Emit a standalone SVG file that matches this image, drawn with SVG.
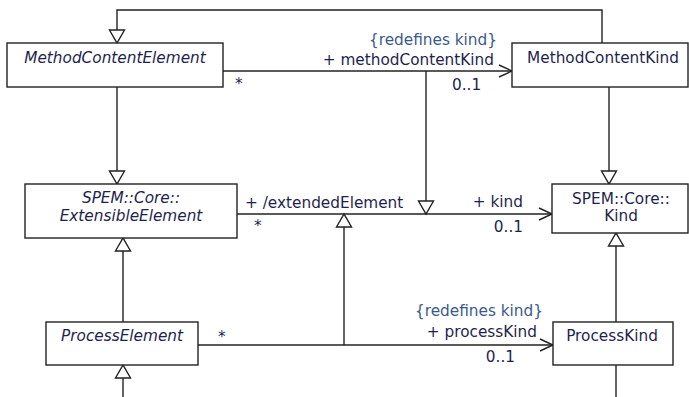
<svg xmlns="http://www.w3.org/2000/svg" width="689" height="397" viewBox="0 0 689 397">
<style>
.box{fill:#fff;stroke:#222;stroke-width:1.4}
.ln{fill:none;stroke:#222;stroke-width:1.4}
text{font-family:"DejaVu Sans","Liberation Sans",sans-serif;font-size:15.3px;fill:#1f1f4f}
.it{font-style:italic}
.c{text-anchor:middle}
.e{text-anchor:end}
.rd{fill:#3a5a8c}
</style>
<defs>
<marker id="tri" markerUnits="userSpaceOnUse" markerWidth="16" markerHeight="18" refX="13" refY="7.5" orient="auto" overflow="visible">
<path d="M0,0 L13,7.5 L0,15 Z" fill="#fff" stroke="#222" stroke-width="1.4"/>
</marker>
<marker id="open" markerUnits="userSpaceOnUse" markerWidth="16" markerHeight="16" refX="13" refY="6" orient="auto" overflow="visible">
<path d="M0,0 L13,6 L0,12" fill="none" stroke="#222" stroke-width="1.4"/>
</marker>
</defs>
<g id="connectors">
<path class="ln" d="M602,43 V10 H117 V43" marker-end="url(#tri)"/>
<path class="ln" d="M117,87 V184" marker-end="url(#tri)"/>
<path class="ln" d="M609,87 V184" marker-end="url(#tri)"/>
<path class="ln" d="M223,71 H512" marker-end="url(#open)"/>
<path class="ln" d="M426,71 V214" marker-end="url(#tri)"/>
<path class="ln" d="M237,214 H552" marker-end="url(#open)"/>
<path class="ln" d="M344,345 V214" marker-end="url(#tri)"/>
<path class="ln" d="M123,322 V238" marker-end="url(#tri)"/>
<path class="ln" d="M198,345 H553" marker-end="url(#open)"/>
<path class="ln" d="M616,322 V233" marker-end="url(#tri)"/>
<path class="ln" d="M123,397 V365" marker-end="url(#tri)"/>
<path class="ln" d="M616,365 V397"/>
<text class="rd e" x="497" y="45">{redefines kind}</text>
<text class="e" x="494" y="65">+ methodContentKind</text>
<text x="452" y="90">0..1</text>
<text x="235" y="89">*</text>
<text x="245" y="208">+ /extendedElement</text>
<text x="254" y="231">*</text>
<text class="e" x="523" y="207">+ kind</text>
<text class="e" x="523" y="232">0..1</text>
<text x="218" y="342">*</text>
<text class="rd e" x="543" y="316">{redefines kind}</text>
<text class="e" x="537" y="337">+ processKind</text>
<text class="e" x="515" y="362">0..1</text>
</g>
<g id="MethodContentElement">
<rect class="box" x="7" y="43" width="216" height="44"/>
<text class="it c" x="115" y="63">MethodContentElement</text>
</g>
<g id="MethodContentKind">
<rect class="box" x="512" y="43" width="176" height="44"/>
<text class="c" x="603" y="63">MethodContentKind</text>
</g>
<g id="ExtensibleElement">
<rect class="box" x="25" y="184" width="212" height="54"/>
<text class="it c" x="131" y="203">SPEM::Core::</text>
<text class="it c" x="131" y="221">ExtensibleElement</text>
</g>
<g id="Kind">
<rect class="box" x="552" y="184" width="136" height="49"/>
<text class="c" x="621" y="204">SPEM::Core::</text>
<text class="c" x="621" y="221">Kind</text>
</g>
<g id="ProcessElement">
<rect class="box" x="46" y="322" width="152" height="43"/>
<text class="it c" x="122" y="341">ProcessElement</text>
</g>
<g id="ProcessKind">
<rect class="box" x="553" y="322" width="120" height="43"/>
<text class="c" x="612" y="341">ProcessKind</text>
</g>
</svg>
